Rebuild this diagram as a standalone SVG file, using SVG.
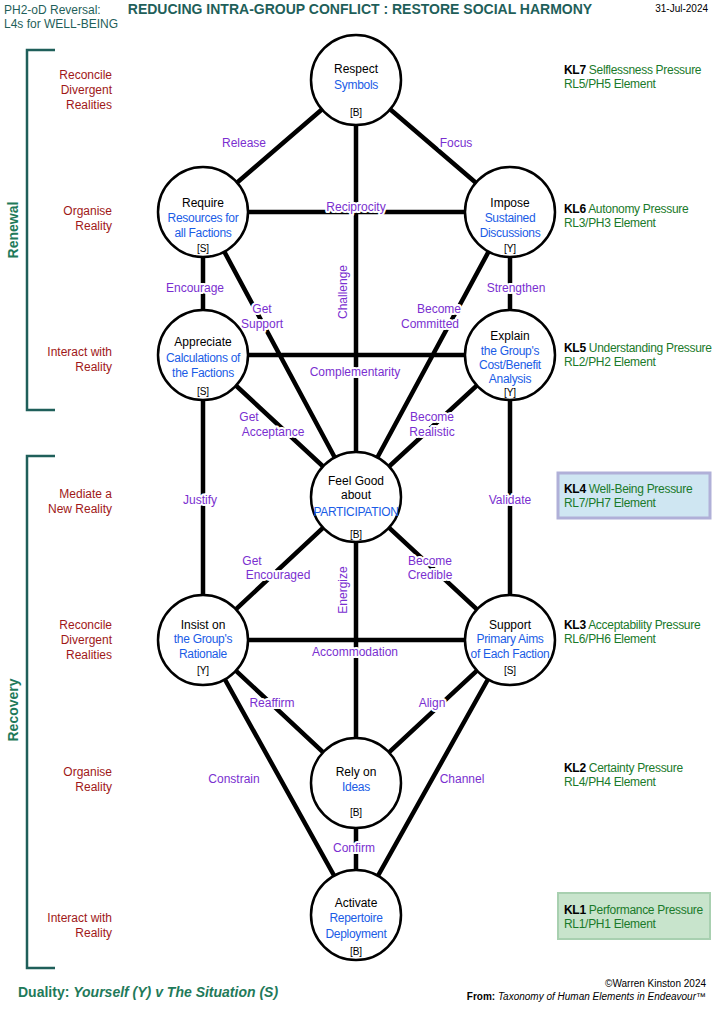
<svg xmlns="http://www.w3.org/2000/svg" width="714" height="1011" viewBox="0 0 714 1011">
<style>
text{font-family:"Liberation Sans",Arial,sans-serif}
.t{font-size:12px;fill:#000;text-anchor:middle}
.b{font-size:12px;fill:#1a5ce6;text-anchor:middle;letter-spacing:-0.3px}
.s{font-size:10px;fill:#000;text-anchor:middle}
.p{font-size:12px;fill:#7a2fd0;text-anchor:middle;stroke:#fff;stroke-width:4px;paint-order:stroke;stroke-linejoin:round}
.r{font-size:12px;fill:#a01818;text-anchor:end}
.k{font-size:12px;fill:#1a7a2a;letter-spacing:-0.3px}
.kb{font-weight:bold;fill:#000}
.c{fill:#fff;stroke:#000;stroke-width:2.5}
.l{stroke:#000;stroke-width:4.5;fill:none}
.br{stroke:#1f5f5a;stroke-width:2.5;fill:none}
</style>
<rect width="714" height="1011" fill="#fff"/>
<text x="4" y="14" style="font-size:12px;fill:#1f5f5a">PH2-oD Reversal:</text>
<text x="4" y="28" style="font-size:12px;fill:#1f5f5a">L4s for WELL-BEING</text>
<text x="360" y="14" style="font-size:14px;font-weight:bold;fill:#1f5f5a;text-anchor:middle">REDUCING INTRA-GROUP CONFLICT :  RESTORE SOCIAL HARMONY</text>
<text x="708" y="12" style="font-size:10px;text-anchor:end">31-Jul-2024</text>
<g id="brackets">
<path class="br" d="M55 50H27V410H55"/>
<path class="br" d="M55 456H27V968H55"/>
<text transform="translate(18 230) rotate(-90)" style="font-size:14px;font-weight:bold;fill:#1f7a5a;text-anchor:middle">Renewal</text>
<text transform="translate(18 710) rotate(-90)" style="font-size:14px;font-weight:bold;fill:#1f7a5a;text-anchor:middle">Recovery</text>
</g>
<g id="levels">
<text class="r" x="112" y="79">Reconcile</text><text class="r" x="112" y="94">Divergent</text><text class="r" x="112" y="109">Realities</text>
<text class="r" x="112" y="215">Organise</text><text class="r" x="112" y="230">Reality</text>
<text class="r" x="112" y="356">Interact with</text><text class="r" x="112" y="371">Reality</text>
<text class="r" x="112" y="498">Mediate a</text><text class="r" x="112" y="513">New Reality</text>
<text class="r" x="112" y="629">Reconcile</text><text class="r" x="112" y="644">Divergent</text><text class="r" x="112" y="659">Realities</text>
<text class="r" x="112" y="776">Organise</text><text class="r" x="112" y="791">Reality</text>
<text class="r" x="112" y="922">Interact with</text><text class="r" x="112" y="937">Reality</text>
</g>
<g id="kl">
<rect x="558" y="473" width="152" height="45" fill="#cfe6f2" stroke="#b0b0d8" stroke-width="3"/>
<rect x="558" y="893" width="152" height="46" fill="#c8e4cc" stroke="#a8d0b0" stroke-width="2"/>
<text class="k" x="564" y="74"><tspan class="kb">KL7</tspan> Selflessness Pressure</text><text class="k" x="564" y="88">RL5/PH5 Element</text>
<text class="k" x="564" y="213"><tspan class="kb">KL6</tspan> Autonomy Pressure</text><text class="k" x="564" y="227">RL3/PH3 Element</text>
<text class="k" x="564" y="352"><tspan class="kb">KL5</tspan> Understanding Pressure</text><text class="k" x="564" y="366">RL2/PH2 Element</text>
<text class="k" x="564" y="493"><tspan class="kb">KL4</tspan>  Well-Being Pressure</text><text class="k" x="564" y="507">RL7/PH7 Element</text>
<text class="k" x="564" y="629"><tspan class="kb">KL3</tspan>  Acceptability Pressure</text><text class="k" x="564" y="643">RL6/PH6 Element</text>
<text class="k" x="564" y="772"><tspan class="kb">KL2</tspan> Certainty Pressure</text><text class="k" x="564" y="786">RL4/PH4 Element</text>
<text class="k" x="564" y="914"><tspan class="kb">KL1</tspan>  Performance Pressure</text><text class="k" x="564" y="928">RL1/PH1 Element</text>
</g>
<g id="connectors">
<path class="l" d="M356 80L203 212M356 80L510 212M356 80V497M203 212H510M203 212V355M510 212V355M203 212L356 497M510 212L356 497M203 355H510M203 355L356 497M510 355L356 497M203 355V640M510 355V640M356 497L203 640M356 497L510 640M356 497V783M203 640H510M203 640L356 783M510 640L356 783M356 783V915M203 640L356 915M510 640L356 915"/>
</g>
<g id="edge-labels">
<text class="p" x="244" y="147">Release</text>
<text class="p" x="456" y="147">Focus</text>
<text class="p" x="356" y="211">Reciprocity</text>
<text class="p" x="195" y="292">Encourage</text>
<text class="p" x="262" y="313">Get</text><text class="p" x="262" y="328">Support</text>
<text class="p" transform="translate(347 292) rotate(-90)">Challenge</text>
<text class="p" x="439" y="313">Become</text><text class="p" x="430" y="328">Committed</text>
<text class="p" x="516" y="292">Strengthen</text>
<text class="p" x="355" y="376">Complementarity</text>
<text class="p" x="249" y="421">Get</text><text class="p" x="273" y="436">Acceptance</text>
<text class="p" x="432" y="421">Become</text><text class="p" x="432" y="436">Realistic</text>
<text class="p" x="200" y="504">Justify</text>
<text class="p" x="510" y="504">Validate</text>
<text class="p" x="252" y="565">Get</text><text class="p" x="278" y="579">Encouraged</text>
<text class="p" x="430" y="565">Become</text><text class="p" x="430" y="579">Credible</text>
<text class="p" transform="translate(347 590) rotate(-90)">Energize</text>
<text class="p" x="355" y="656">Accommodation</text>
<text class="p" x="272" y="707">Reaffirm</text>
<text class="p" x="432" y="707">Align</text>
<text class="p" x="234" y="783">Constrain</text>
<text class="p" x="462" y="783">Channel</text>
<text class="p" x="354" y="852">Confirm</text>
</g>
<g id="n-respect"><circle class="c" cx="356" cy="80" r="45"/><text class="t" x="356" y="73">Respect</text><text class="b" x="356" y="89">Symbols</text><text class="s" x="356" y="116">[B]</text></g>
<g id="n-require"><circle class="c" cx="203" cy="212" r="45"/><text class="t" x="203" y="207">Require</text><text class="b" x="203" y="222">Resources for</text><text class="b" x="203" y="237">all Factions</text><text class="s" x="203" y="252">[S]</text></g>
<g id="n-impose"><circle class="c" cx="510" cy="212" r="45"/><text class="t" x="510" y="207">Impose</text><text class="b" x="510" y="222">Sustained</text><text class="b" x="510" y="237">Discussions</text><text class="s" x="510" y="252">[Y]</text></g>
<g id="n-appreciate"><circle class="c" cx="203" cy="355" r="45"/><text class="t" x="203" y="346">Appreciate</text><text class="b" x="203" y="362">Calculations of</text><text class="b" x="203" y="377">the Factions</text><text class="s" x="203" y="395">[S]</text></g>
<g id="n-explain"><circle class="c" cx="510" cy="355" r="45"/><text class="t" x="510" y="340">Explain</text><text class="b" x="510" y="355">the Group's</text><text class="b" x="510" y="369">Cost/Benefit</text><text class="b" x="510" y="383">Analysis</text><text class="s" x="510" y="396">[Y]</text></g>
<g id="n-feelgood"><circle class="c" cx="356" cy="497" r="45"/><text class="t" x="356" y="485">Feel Good</text><text class="t" x="356" y="499">about</text><text class="b" x="356" y="516">PARTICIPATION</text><text class="s" x="356" y="538">[B]</text></g>
<g id="n-insist"><circle class="c" cx="203" cy="640" r="45"/><text class="t" x="203" y="629">Insist on</text><text class="b" x="203" y="643">the Group's</text><text class="b" x="203" y="658">Rationale</text><text class="s" x="203" y="674">[Y]</text></g>
<g id="n-support"><circle class="c" cx="510" cy="640" r="45"/><text class="t" x="510" y="629">Support</text><text class="b" x="510" y="643">Primary Aims</text><text class="b" x="510" y="658">of Each Faction</text><text class="s" x="510" y="674">[S]</text></g>
<g id="n-rely"><circle class="c" cx="356" cy="783" r="45"/><text class="t" x="356" y="776">Rely on</text><text class="b" x="356" y="791">Ideas</text><text class="s" x="356" y="816">[B]</text></g>
<g id="n-activate"><circle class="c" cx="356" cy="915" r="45"/><text class="t" x="356" y="907">Activate</text><text class="b" x="356" y="922">Repertoire</text><text class="b" x="356" y="938">Deployment</text><text class="s" x="356" y="955">[B]</text></g>
<text x="18" y="997" style="font-size:14px;font-weight:bold;fill:#1f7a5a">Duality:  <tspan font-style="italic">Yourself (Y) v The Situation (S)</tspan></text>
<text x="706" y="987" style="font-size:10px;text-anchor:end">©Warren Kinston 2024</text>
<text x="706" y="1000" style="font-size:10px;text-anchor:end"><tspan font-weight="bold">From:</tspan>  <tspan font-style="italic">Taxonomy of Human Elements in Endeavour™</tspan></text>
</svg>
